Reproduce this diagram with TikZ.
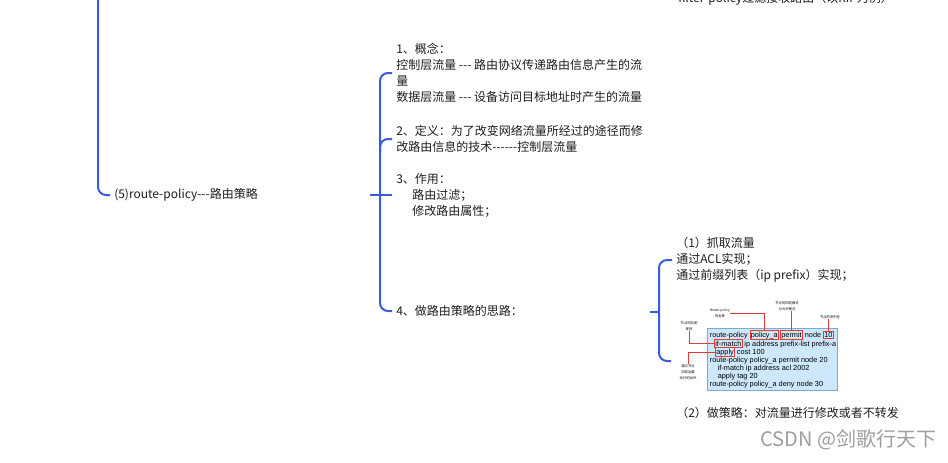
\documentclass[tikz,border=0pt]{standalone}
\usepackage{fontspec}
\setmainfont{Noto Sans CJK SC}[Ligatures=TeXOff]
\newfontfamily\codefont{Liberation Sans}[Ligatures=TeXOff]
\usetikzlibrary{positioning}
\definecolor{mapblue}{RGB}{59,91,219}
\definecolor{tagred}{RGB}{226,58,58}
\definecolor{shotfill}{RGB}{204,232,250}
\definecolor{shotline}{RGB}{120,170,210}
\definecolor{inkgray}{RGB}{30,30,30}

\begin{document}
\begin{tikzpicture}[x=0.75pt,y=-0.75pt,
  item/.style={anchor=west,align=left,inner xsep=3pt,inner ysep=0pt,
               font=\fontsize{9}{12}\selectfont,text=inkgray},
  branch/.style={draw=mapblue,line width=1.5pt,rounded corners=6pt},
  code/.style={inner sep=0.4pt,font=\codefont\fontsize{5.5}{6}\selectfont},
  tag/.style={code,draw=tagred,line width=0.5pt,inner sep=0.7pt},
  tiny/.style={align=center,inner sep=0pt,font=\fontsize{2.5}{4.5}\selectfont},
  note/.style={draw=tagred,line width=0.5pt}
]
  \useasboundingbox (0,0) rectangle (948,462);
  \fill[white] (0,0) rectangle (948,462);

  % left level
  \node[item] (route) at (110,195) {(5)route-policy---路由策略};
  \coordinate (stemtop) at (98,-10);
  \draw[branch] (stemtop) |- (route.west);

  % middle level
  \node[item] (concept) at (392,73)
    {1、概念：\\控制层流量 --- 路由协议传递路由信息产生的流\\量\\
     数据层流量 --- 设备访问目标地址时产生的流量};
  \node[item] (define) at (392,139)
    {2、定义：为了改变网络流量所经过的途径而修\\改路由信息的技术------控制层流量};
  \node[item] (use) at (392,195)
    {3、作用：\\\hspace*{12pt}路由过滤；\\\hspace*{12pt}修改路由属性；};
  \node[item] (idea) at (392,311) {4、做路由策略的思路：};
  \coordinate (spine) at (380,195);
  \coordinate (fork) at (380,152);
  \coordinate (hub) at (370,195);
  \draw[branch] (concept.west) -| (spine) |- (idea.west);
  \draw[branch] (fork) |- (define.west);
  \draw[branch] (hub) -- (use.west);

  % right level
  \node[item] (filter) at (674,-1) {filter-policy过滤接收路由（以RIP为例）};
  \node[item] (grab) at (672,260)
    {（1）抓取流量\\通过ACL实现；\\通过前缀列表（ip prefix）实现；};
  \node[item] (apply) at (672,413) {（2）做策略：对流量进行修改或者不转发};
  \coordinate (spine2) at (659,312);
  \coordinate (hub2) at (650,312);
  \coordinate (shotin) at (671,361);
  \draw[branch] (grab.west) -| (spine2) |- (shotin);
  \draw[branch] (hub2) -- (spine2);

  % route-policy screenshot
  \node[draw=shotline,fill=shotfill,line width=0.4pt,inner sep=0pt,
        minimum width=97.5pt,minimum height=46.5pt] (shot) at (772,359) {};
  \node[code,anchor=base west] (c1) at (709,337) {route-policy};
  \node[tag,base right=0.8pt of c1] (pname) {policy\_a};
  \node[tag,base right=0.8pt of pname] (mode) {permit};
  \node[code,base right=0.8pt of mode] (c1b) {node};
  \node[tag,base right=0.8pt of c1b] (seq) {10};
  \node[tag,anchor=base west] (ifm) at (714,346) {if-match};
  \node[code,base right=0.8pt of ifm] (c2) {ip address prefix-list prefix-a};
  \node[tag,anchor=base west] (act) at (715,354) {apply};
  \node[code,base right=0.8pt of act] (c3) {cost 100};
  \node[code,anchor=base west] (c4) at (709,362) {route-policy policy\_a permit node 20};
  \node[code,anchor=base west] (c5) at (717,370) {if-match ip address acl 2002};
  \node[code,anchor=base west] (c6) at (717,378) {apply tag 20};
  \node[code,anchor=base west] (c7) at (709,386) {route-policy policy\_a deny node 30};

  \node[tiny] (namelbl) at (720,313) {Route-policy\\的名称};
  \node[tiny] (modelbl) at (787,306) {节点的匹配模式\\为允许模式};
  \node[tiny] (seqlbl) at (830,317) {节点的序列号};
  \node[tiny] (matchlbl) at (689,326) {节点的匹配\\规则};
  \node[tiny] (actlbl) at (688,372) {通过节点\\匹配后要\\执行的动作};
  \draw[note] (namelbl.east) -| (pname.north);
  \draw[note] (modelbl.south -| mode.north) -- (mode.north);
  \draw[note] (seqlbl.south -| seq.north) -- (seq.north);
  \draw[note] (matchlbl.south) |- (ifm.west);
  \draw[note] (actlbl.north) |- (act.west);

  \node[anchor=west,inner sep=0pt,text=black!38,font=\fontsize{15}{17}\selectfont]
    (mark) at (760,440) {CSDN @剑歌行天下};
\end{tikzpicture}
\end{document}
